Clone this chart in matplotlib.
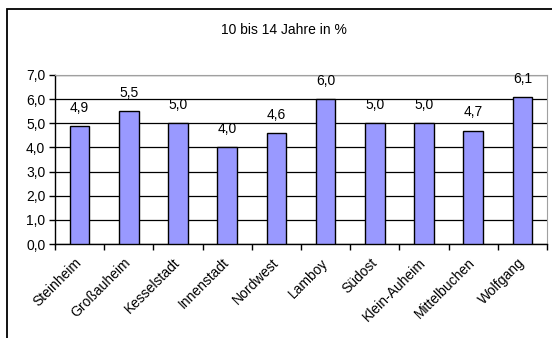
import matplotlib
matplotlib.use("Agg")
import matplotlib.pyplot as plt
from matplotlib.patches import Rectangle
from matplotlib.ticker import FuncFormatter, MultipleLocator

plt.rcParams['font.family'] = ['Liberation Sans', 'DejaVu Sans']

stadtteile = ["Steinheim", "Großauheim", "Kesselstadt", "Innenstadt", "Nordwest",
              "Lamboy", "Südost", "Klein-Auheim", "Mittelbuchen", "Wolfgang"]
anteil = [4.9, 5.5, 5.0, 4.0, 4.6, 6.0, 5.0, 5.0, 4.7, 6.1]
titel = "10 bis 14 Jahre in %"

W, H = 552, 338
fig = plt.figure(figsize=(W / 100, H / 100), dpi=100)
ax = fig.add_axes([55 / W, 1 - 244 / H, (547 - 55) / W, (244 - 75) / H])

# outer chart frame (runs off the right and bottom edge)
fig.patches.append(Rectangle((7 / W, -0.1), 1.2, 1.1 - 9 / H, transform=fig.transFigure,
                             fill=False, edgecolor='black', linewidth=1.3, clip_on=False))

x = range(len(stadtteile))
ax.bar(x, anteil, width=0.4, color='#9999ff', edgecolor='black', linewidth=1.0, zorder=3)
for xi, v in zip(x, anteil):
    ax.annotate(f"{v:.1f}".replace('.', ','), (xi, v), xytext=(0, 8), textcoords='offset points',
                ha='center', va='bottom', fontsize=10)

ax.set_xlim(-0.5, len(stadtteile) - 0.5)
ax.set_ylim(0, 7)
ax.yaxis.set_major_locator(MultipleLocator(1))
ax.yaxis.set_major_formatter(FuncFormatter(lambda v, p: f"{v:.1f}".replace('.', ',')))
ax.grid(axis='y', color='black', linewidth=0.9, zorder=0)
ax.set_xticks([i + 0.5 for i in range(-1, len(stadtteile))])
ax.set_xticklabels([])
ax.set_xticks(list(x), minor=True)
ax.set_xticklabels(stadtteile, minor=True, rotation=45, ha='right', va='center',
                   rotation_mode='anchor', fontsize=10)
ax.tick_params(axis='x', which='minor', length=0, pad=12)
ax.tick_params(axis='x', which='major', length=4, width=1, direction='out')
ax.tick_params(axis='y', length=4, width=1, direction='out', labelsize=10, pad=3)

ax.spines['top'].set_color('#a0a0a0')
ax.spines['right'].set_color('#a0a0a0')
ax.spines['left'].set_linewidth(1.0)
ax.spines['bottom'].set_linewidth(1.0)

fig.text(284 / W, 1 - 30 / H, titel, ha='center', va='center', fontsize=10)

fig.savefig("out.png", dpi=100)
